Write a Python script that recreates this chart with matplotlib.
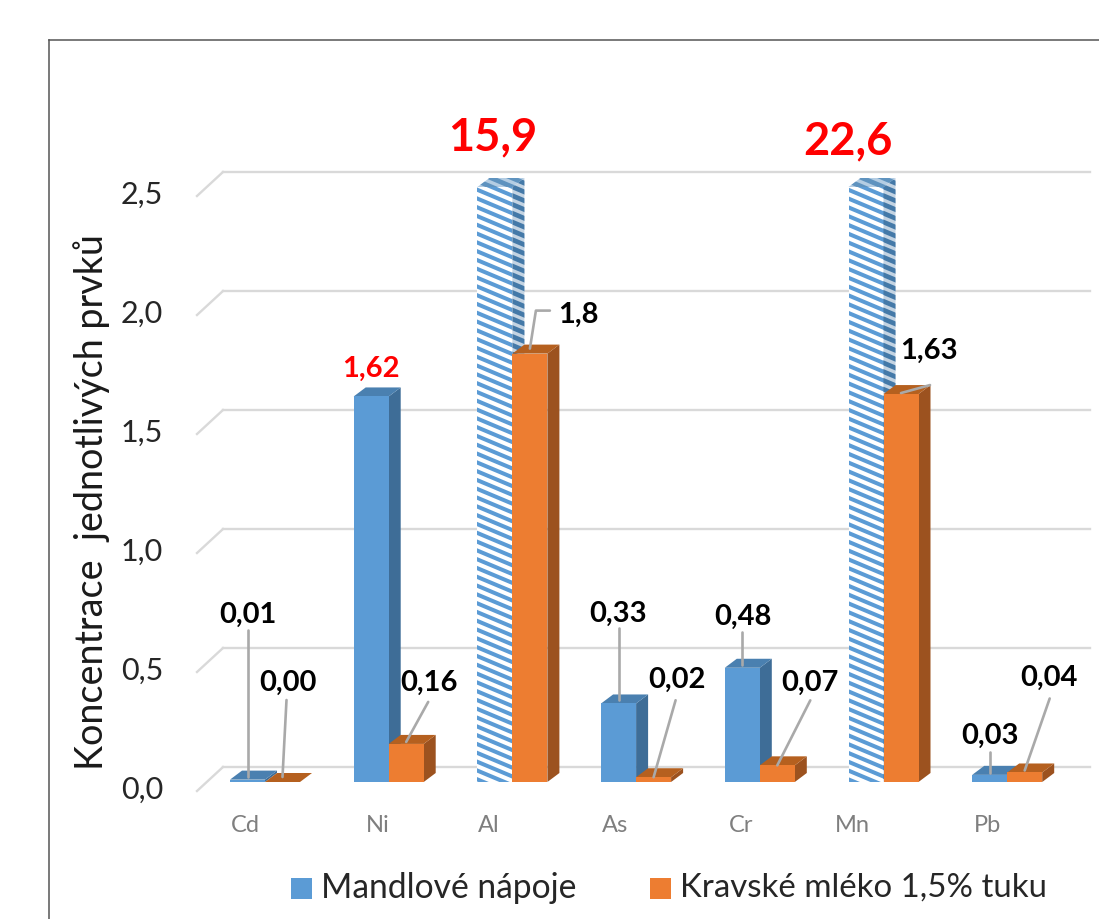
import matplotlib
matplotlib.use("Agg")
import matplotlib.pyplot as plt
from matplotlib.patches import Polygon, Rectangle

plt.rcParams['font.family'] = ['Lato', 'DejaVu Sans']

# Element concentrations
elements = ['Cd', 'Ni', 'Al', 'As', 'Cr', 'Mn', 'Pb']
almond = [0.01, 1.62, 15.9, 0.33, 0.48, 22.6, 0.03]
milk = [0.00, 0.16, 1.8, 0.02, 0.07, 1.63, 0.04]
almond_labels = ['0,01', '1,62', '15,9', '0,33', '0,48', '22,6', '0,03']
milk_labels = ['0,00', '0,16', '1,8', '0,02', '0,07', '1,63', '0,04']
y_ticks = [0.0, 0.5, 1.0, 1.5, 2.0, 2.5]
y_tick_labels = ['0,0', '0,5', '1,0', '1,5', '2,0', '2,5']
y_max = 2.5
series_names = ['Mandlové nápoje', 'Kravské mléko 1,5% tuku']
y_title = 'Koncentrace  jednotlivých prvků'

W, H = 1099, 919
X0, Y0 = 265.0, 782.0       # pixel of first category / zero baseline
SX, SY = 123.7, 238.0       # pixels per category / per unit
BAR = 35 / SX
DX, DY = 12 / SX, 9 / SY    # bar depth
GX, GY = 26 / SX, 24 / SY   # depth of the chart walls

fig = plt.figure(figsize=(W / 100, H / 100), dpi=100, facecolor='white')
ax = fig.add_axes([0, 0, 1, 1])
ax.set_xlim(-X0 / SX, (W - X0) / SX)
ax.set_ylim((Y0 - H) / SY, Y0 / SY)
ax.axis('off')


def off(x, y, dx, dy):
    """Shift a data position by a pixel offset (dy positive downwards)."""
    return x + dx / SX, y - dy / SY


# Outer frame
frame_x = [(49 - X0) / SX] * 2
ax.plot(frame_x, [(Y0 - H) / SY, (Y0 - 40) / SY], color='#555555', lw=1.1, zorder=1)
ax.plot([frame_x[0], (W - X0) / SX], [(Y0 - 40) / SY] * 2, color='#555555', lw=1.1, zorder=1)

# Back wall gridlines and their slanted floor segments
back_dy = 15 / SY
grid_left = (223 - X0) / SX
grid_right = (1090 - X0) / SX
for t, lab in zip(y_ticks, y_tick_labels):
    yb = t + back_dy
    ax.plot([grid_left, grid_right], [yb, yb], color='#d9d9d9', lw=1.7, zorder=2)
    ax.plot([grid_left, grid_left - GX], [yb, yb - GY], color='#d9d9d9', lw=1.7, zorder=2)
    ax.text((163 - X0) / SX, t - 7.5 / SY, lab, ha='right', va='center',
            fontsize=22, color='#262626', zorder=3)


def solid_bar(x, v, front, side, top):
    x1 = x + BAR
    ax.add_patch(Polygon([(x1, 0), (x1 + DX, DY), (x1 + DX, v + DY), (x1, v)],
                         fc=side, ec='none', zorder=5))
    ax.add_patch(Polygon([(x, v), (x + DX, v + DY), (x1 + DX, v + DY), (x1, v)],
                         fc=top, ec='none', zorder=5))
    ax.add_patch(Rectangle((x, 0), BAR, v, fc=front, ec='none', zorder=5))


def striped_bar(x, v):
    """Bar cut off at the axis maximum, filled with diagonal stripes."""
    x1 = x + BAR
    faces = [
        ([(x, 0), (x1, 0), (x1, v), (x, v)], 'white', '#5b9bd5', 2.9),
        ([(x1, 0), (x1 + DX, DY), (x1 + DX, v + DY), (x1, v)], '#c3d3e2', '#4479a8', 3.4),
        ([(x, v), (x + DX, v + DY), (x1 + DX, v + DY), (x1, v)], '#b4cde3', '#5f93bf', 3.4),
    ]
    step = 8.8 / SY
    slope = -0.42 * SX / SY  # drop of a stripe per category unit
    for pts, bg, col, width in faces:
        clip = Polygon(pts, fc=bg, ec='none', zorder=4)
        ax.add_patch(clip)
        level = -0.3
        while level < v + 0.5:
            line, = ax.plot([x - 0.1, x1 + 0.3],
                            [level, level + slope * (x1 + 0.4 - x)],
                            color=col, lw=width, solid_capstyle='butt', zorder=4.5)
            line.set_clip_path(clip)
            level += step


for i, (a, m) in enumerate(zip(almond, milk)):
    if a > y_max:
        striped_bar(i - BAR, y_max)
    else:
        solid_bar(i - BAR, a, '#5b9bd5', '#3e6d97', '#4a80b0')
    solid_bar(i, min(m, y_max), '#ed7d31', '#9c521f', '#b5601f')

# Data labels: text offset from the bar top, then leader vertices from the same anchor
LEADER = '#a9a9a9'
blue_layout = {
    0: ((0, -165), [(0, -3), (0, -150)]),
    3: ((-1, -90), [(0, -3), (0, -75)]),
    4: ((1, -51), [(0, -3), (0, -36)]),
    6: ((0, -39), [(0, -2), (0, -23)]),
}
orange_layout = {
    0: ((5, -99), [(0, -5), (4, -82)]),
    1: ((23, -61), [(0, -2), (22, -42)]),
    2: ((48, -39), [(0, -5), (6, -43), (20, -43)]),
    3: ((23, -97), [(0, 0), (22, -77)]),
    4: ((33, -82), [(0, 0), (33, -65)]),
    5: ((28, -43), [(0, -1), (29, -9)]),
    6: ((24, -95), [(0, -2), (25, -74)]),
}
for layout, vals, labs, cx in ((blue_layout, almond, almond_labels, -BAR / 2),
                               (orange_layout, milk, milk_labels, BAR / 2)):
    for i, ((tx, ty), path) in layout.items():
        v = min(vals[i], y_max)
        pts = [off(i + cx, v, dx, dy) for dx, dy in path]
        ax.plot(*zip(*pts), color=LEADER, lw=1.9, zorder=6, solid_capstyle='round')
        px, py = off(i + cx, v, tx, ty)
        ax.text(px, py, labs[i], ha='center', va='center', fontsize=21,
                fontweight='bold', color='black', zorder=7)

# Values shown in red
px, py = off(1 - BAR / 2, almond[1], 0, -28)
ax.text(px, py, almond_labels[1], ha='center', va='center', fontsize=21,
        fontweight='bold', color='#ff0000', zorder=7)
for i, dx, dy in ((2, -2, -50), (5, -18, -46)):
    px, py = off(i - BAR / 2, y_max, dx, dy)
    ax.text(px, py, almond_labels[i], ha='center', va='center', fontsize=32.5,
            fontweight='bold', color='#ff0000', zorder=7)

# Category labels
label_shift = [-20, -11, -24, -21, -19, -31, -20]
for i, name in enumerate(elements):
    ax.text(i + label_shift[i] / SX, -43 / SY, name, ha='center', va='center',
            fontsize=17, color='#7f7f7f')

# Axis title
ax.text((92 - X0) / SX, (Y0 - 502) / SY, y_title, rotation=90, ha='center',
        va='center', fontsize=27.2, color='#1a1a1a')

# Legend
for px0, col, size, name in ((291, '#5b9bd5', 24.2, series_names[0]),
                             (650, '#ed7d31', 23.8, series_names[1])):
    ax.add_patch(Rectangle(((px0 - X0) / SX, (Y0 - 899) / SY), 21 / SX, 21 / SY,
                           fc=col, ec='none'))
    ax.text((px0 + 30 - X0) / SX, (Y0 - 888) / SY, name, ha='left', va='center',
            fontsize=size, color='#262626')

fig.savefig('out.png', dpi=100)
